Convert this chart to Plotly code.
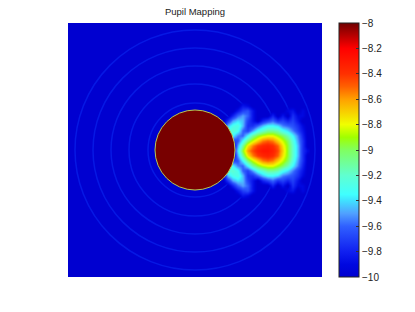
import plotly.graph_objects as go

TITLE = "Pupil Mapping"
Z_MIN, Z_MAX = -10, -8
DISC_RADIUS = 40
RING_RADII = [47, 66, 84, 102, 120]
AXIS_LIMIT = 127
CENTER_PX = (195, 150)

CBAR_TICKS = [-8, -8.2, -8.4, -8.6, -8.8, -9, -9.2, -9.4, -9.6, -9.8, -10]
CBAR_LABELS = ["\u22128", "\u22128.2", "\u22128.4", "\u22128.6", "\u22128.8", "\u22129",
               "\u22129.2", "\u22129.4", "\u22129.6", "\u22129.8", "\u221210"]

COLOR_STOPS = [(0.05, "#0008e0"), (0.10, "#1020f0"), (0.20, "#3060ff"),
               (0.25, "#50a0ff"), (0.30, "#40e0ff"), (0.325, "#40ffff"), (0.40, "#60ffd0"),
               (0.50, "#80ff60"), (0.55, "#a0ff00"), (0.60, "#f0ff00"), (0.70, "#ffa000"),
               (0.75, "#ff6000"), (0.80, "#ff3000"), (0.90, "#ff0000"), (1.00, "#700000")]
BAR_LOW_STOP = (0.00, "#0000d0")
FIELD_LOW_STOP = (0.00, "rgba(0,0,208,0)")

# Estimated log-intensity readings in the lobe region, by pixel column and row
PATCH_X = [222, 227, 232, 237, 242, 247, 252, 257, 262, 267, 272, 277, 282, 287, 292, 297, 302, 307]
PATCH_Y = [100, 105, 110, 115, 120, 125, 130, 135, 140, 145, 150, 155, 160, 165, 170, 175, 180, 185, 190, 195, 200]
N = -10
PATCH_Z = [
    [N, N, N, N, N, N, N, N, N, N, N, N, N, N, N, N, N, N],
    [N, N, N, N, -9.85, -9.9, N, N, N, N, N, N, N, N, N, N, N, N],
    [N, N, N, -9.85, -9.7, -9.65, -9.85, N, N, N, N, N, N, -9.9, -9.85, N, -9.9, N],
    [N, N, -9.8, -9.6, -9.5, -9.6, -9.85, N, N, N, -9.8, N, -9.85, N, -9.75, -9.9, -9.9, N],
    [N, -9.75, -9.5, -9.4, -9.45, -9.7, -9.85, N, -9.8, -9.7, -9.6, -9.75, -9.7, -9.8, -9.7, -9.85, N, N],
    [N, -9.45, -9.3, -9.25, -9.45, -9.75, -9.75, -9.6, -9.45, -9.35, -9.35, -9.4, -9.55, -9.6, -9.65, -9.75, -9.9, N],
    [-9.6, -9.25, -9.2, -9.3, -9.6, -9.7, -9.5, -9.3, -9.2, -9.1, -9.1, -9.15, -9.3, -9.4, -9.55, -9.7, -9.85, N],
    [-9.5, -9.3, -9.35, -9.55, -9.6, -9.35, -9.1, -8.95, -8.85, -8.8, -8.8, -8.9, -9.0, -9.15, -9.35, -9.55, -9.8, N],
    [N, -9.8, -9.7, -9.65, -9.35, -9.05, -8.85, -8.7, -8.55, -8.5, -8.55, -8.7, -8.85, -9.0, -9.25, -9.5, -9.75, N],
    [N, N, N, -9.5, -9.1, -8.75, -8.55, -8.42, -8.36, -8.33, -8.38, -8.5, -8.75, -8.95, -9.2, -9.45, -9.75, N],
    [N, N, -9.9, -9.4, -8.95, -8.6, -8.45, -8.33, -8.28, -8.28, -8.33, -8.45, -8.7, -8.95, -9.2, -9.45, -9.75, -9.9],
    [N, N, N, -9.5, -9.1, -8.75, -8.55, -8.42, -8.36, -8.33, -8.38, -8.5, -8.75, -8.95, -9.2, -9.45, -9.75, N],
    [N, -9.8, -9.7, -9.65, -9.35, -9.05, -8.85, -8.7, -8.55, -8.5, -8.55, -8.7, -8.85, -9.0, -9.25, -9.5, -9.75, N],
    [-9.5, -9.3, -9.35, -9.55, -9.6, -9.35, -9.1, -8.95, -8.85, -8.8, -8.8, -8.9, -9.0, -9.15, -9.35, -9.55, -9.8, N],
    [-9.6, -9.25, -9.2, -9.3, -9.6, -9.7, -9.5, -9.3, -9.2, -9.1, -9.1, -9.15, -9.3, -9.4, -9.55, -9.7, -9.85, N],
    [N, -9.45, -9.3, -9.25, -9.45, -9.75, -9.75, -9.6, -9.45, -9.35, -9.35, -9.4, -9.55, -9.6, -9.65, -9.75, -9.9, N],
    [N, -9.75, -9.5, -9.4, -9.45, -9.7, -9.85, N, -9.8, -9.7, -9.6, -9.75, -9.7, -9.8, -9.7, -9.85, N, N],
    [N, N, -9.8, -9.6, -9.5, -9.6, -9.85, N, N, N, -9.8, N, -9.85, N, -9.75, -9.9, -9.9, N],
    [N, N, N, -9.85, -9.7, -9.65, -9.85, N, N, N, N, N, N, -9.9, -9.85, N, -9.9, N],
    [N, N, N, N, -9.85, -9.9, N, N, N, N, N, N, N, N, N, N, N, N],
    [N, N, N, N, N, N, N, N, N, N, N, N, N, N, N, N, N, N],
]

BACKGROUND = "#0000d0"
RING_COLOR = "#0618e4"
DISC_FILL = "#780000"
DISC_RIM = "#b8c850"
FONT = "Liberation Sans"

fig = go.Figure()
# Field: the lowest level fades out so the rings underneath stay visible
fig.add_trace(go.Heatmap(
    x=[px - CENTER_PX[0] for px in PATCH_X],
    y=[CENTER_PX[1] - py for py in PATCH_Y],
    z=PATCH_Z,
    zmin=Z_MIN, zmax=Z_MAX, zsmooth="best",
    colorscale=[list(FIELD_LOW_STOP)] + [list(s) for s in COLOR_STOPS],
    showscale=False, hoverinfo="skip",
))
# Colour bar, carried by an empty marker trace with the opaque scale
fig.add_trace(go.Scatter(
    x=[None], y=[None], mode="markers", showlegend=False, hoverinfo="skip",
    marker=dict(
        color=[Z_MIN], cmin=Z_MIN, cmax=Z_MAX, size=1,
        colorscale=[list(BAR_LOW_STOP)] + [list(s) for s in COLOR_STOPS],
        showscale=True,
        colorbar=dict(
            x=(339 - 68) / 254, xanchor="left", y=0.5, yanchor="middle", len=1,
            thickness=20, outlinecolor="#222222", outlinewidth=1,
            tickvals=CBAR_TICKS, ticktext=CBAR_LABELS, ticks="inside", ticklen=3,
            tickcolor="#333333", tickfont=dict(family=FONT, size=10, color="#222222"),
            xpad=0, ypad=0,
        ),
    ),
))

shapes = [dict(type="circle", xref="x", yref="y", x0=-r, x1=r, y0=-r, y1=r, layer="below",
               line=dict(color=RING_COLOR, width=1.5)) for r in RING_RADII]
shapes.append(dict(type="circle", xref="x", yref="y", x0=-DISC_RADIUS, x1=DISC_RADIUS,
                   y0=-DISC_RADIUS, y1=DISC_RADIUS, layer="above", fillcolor=DISC_FILL,
                   line=dict(color=DISC_RIM, width=1)))

fig.update_layout(
    width=415, height=312, autosize=False,
    margin=dict(l=68, r=93, t=23, b=35),
    paper_bgcolor="white", plot_bgcolor=BACKGROUND,
    title=dict(text=TITLE, x=195 / 415, xanchor="center", y=1 - 12 / 312, yanchor="middle",
               font=dict(family=FONT, size=9.5, color="#222222")),
    xaxis=dict(range=[-AXIS_LIMIT, AXIS_LIMIT], visible=False),
    yaxis=dict(range=[-AXIS_LIMIT, AXIS_LIMIT], visible=False),
    shapes=shapes,
)
fig.write_html("out.html", config={"displayModeBar": False},
               post_script="document.body.style.margin='0';")
